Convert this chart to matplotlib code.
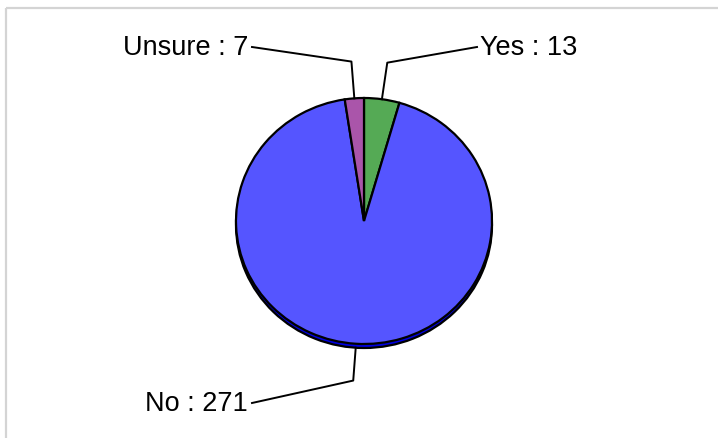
import numpy as np
import matplotlib
matplotlib.use('Agg')
import matplotlib.pyplot as plt

plt.rcParams['font.family'] = ['Liberation Sans', 'DejaVu Sans']

labels = ['Yes', 'No', 'Unsure']
values = [13, 271, 7]
colors = ['#55aa55', '#5555ff', '#aa55aa']
shadow_color = '#0000dd'

W, H = 718, 439
cx, cy = 364, 222      # pie centre, pixels from top-left
rx, ry = 128, 123      # slightly flattened pie
depth = 4

fig = plt.figure(figsize=(W / 100, H / 100), dpi=100)

# pie axes sized so that the unit circle fills the ellipse
bot_px = cy + ry + depth + 1
top_px = cy - ry
ax = fig.add_axes([(cx - rx) / W, (H - bot_px) / H, 2 * rx / W, (bot_px - top_px) / H])
ax.pie([1], colors=[shadow_color], radius=1, center=(0, -depth / ry),
       wedgeprops=dict(edgecolor='black', linewidth=1.6))
wedges, _ = ax.pie(values, colors=colors, startangle=90, counterclock=False, radius=1,
                   wedgeprops=dict(edgecolor='black', linewidth=1.6))
ax.set_aspect('auto')
ax.set_xlim(-1, 1)
ax.set_ylim(-1 - (depth + 1) / ry, 1)
ax.axis('off')

# overlay in pixel coordinates for leader lines, labels and border
ov = fig.add_axes([0, 0, 1, 1], zorder=5)
ov.set_xlim(0, W)
ov.set_ylim(H, 0)
ov.axis('off')
ov.patch.set_alpha(0)

ov.plot([5.5, 5.5], [8.5, H], color='#d4d4d4', lw=1.6, solid_capstyle='butt')
ov.plot([5.5, W], [8.5, 8.5], color='#d4d4d4', lw=1.6, solid_capstyle='butt')

label_x = {'Yes': 477, 'No': 252, 'Unsure': 252}
label_y = {'Yes': 48, 'No': 404, 'Unsure': 48}

for w, lab, v in zip(wedges, labels, values):
    mid = np.deg2rad((w.theta1 + w.theta2) / 2)
    extra = depth if np.sin(mid) < 0 else 0
    x0 = cx + rx * np.cos(mid)
    y0 = cy - ry * np.sin(mid) + extra
    x1 = cx + 1.3 * rx * np.cos(mid)
    y1 = cy - 1.3 * ry * np.sin(mid)
    x2, y2 = label_x[lab], label_y[lab]
    ov.plot([x0, x1, x2], [y0, y1, y2], color='black', lw=1.4)
    if x2 > cx:
        ov.text(x2 + 3, y2 + 7, f'{lab} : {v}', ha='left', va='baseline', fontsize=19.5)
    else:
        ov.text(x2 - 4, y2 + 7, f'{lab} : {v}', ha='right', va='baseline', fontsize=19.5)

fig.savefig('out.png', dpi=100)
